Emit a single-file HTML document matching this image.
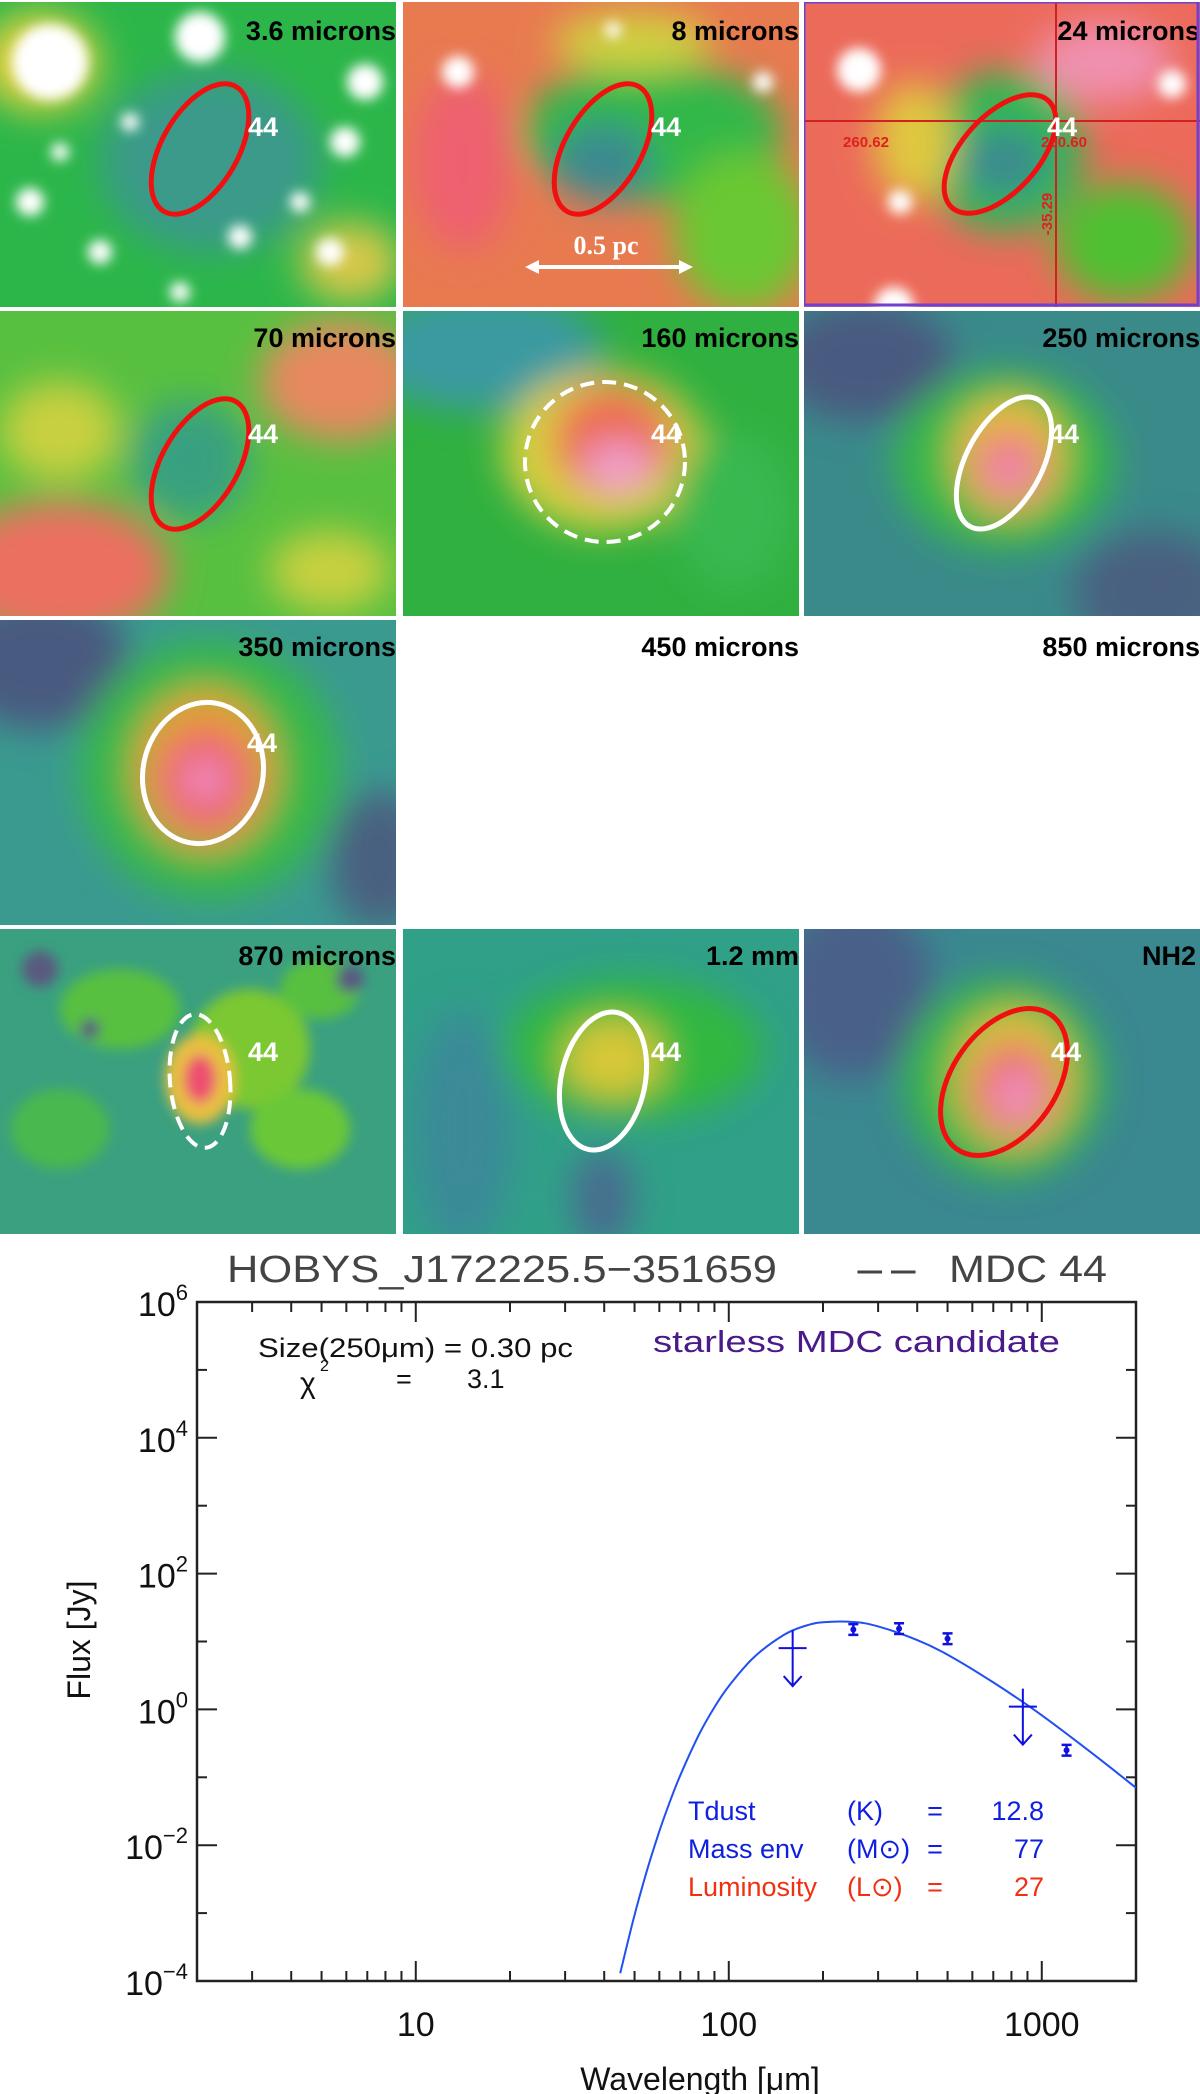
<!DOCTYPE html>
<html><head><meta charset="utf-8"><style>
html,body{margin:0;padding:0;background:#fff;width:1200px;height:2094px;overflow:hidden}
svg text{font-family:"Liberation Sans",sans-serif}
.pt{font-weight:bold;font-size:27px;fill:#000;text-anchor:end}
.lab{font-weight:bold;font-size:27px;fill:#fff;text-anchor:middle}
</style></head><body>
<svg width="1200" height="2094" xmlns="http://www.w3.org/2000/svg">
<defs>
<filter id="b1" x="-50%" y="-50%" width="200%" height="200%"><feGaussianBlur stdDeviation="18"/></filter>
<filter id="b2" x="-50%" y="-50%" width="200%" height="200%"><feGaussianBlur stdDeviation="6"/></filter>
<clipPath id="c"><rect width="396" height="305"/></clipPath>
</defs>

<!-- Row 1 -->
<g transform="translate(0,2)" clip-path="url(#c)">
<rect width="396" height="305" fill="#2cb64a"/>
<g filter="url(#b1)"><ellipse cx="210" cy="160" rx="110" ry="90" fill="#3a9a8a"/><ellipse cx="40" cy="60" rx="60" ry="50" fill="#e0d040"/><ellipse cx="350" cy="260" rx="50" ry="40" fill="#d8c84a"/></g>
<g filter="url(#b2)" fill="#fff"><circle cx="50" cy="60" r="38"/><circle cx="200" cy="35" r="25"/><circle cx="365" cy="80" r="18"/><circle cx="345" cy="140" r="15"/><circle cx="30" cy="200" r="14"/><circle cx="100" cy="250" r="12"/><circle cx="240" cy="235" r="12"/><circle cx="330" cy="250" r="14"/><circle cx="130" cy="120" r="9"/><circle cx="300" cy="200" r="10"/><circle cx="60" cy="150" r="9"/><circle cx="180" cy="290" r="10"/></g>
<ellipse cx="200" cy="147" rx="38" ry="72" transform="rotate(30 200 147)" fill="none" stroke="#f01010" stroke-width="5"/>
<text class="lab" x="263" y="134">44</text>
<text class="pt" x="396" y="38">3.6 microns</text>
</g>
<g transform="translate(403,2)" clip-path="url(#c)">
<rect width="396" height="305" fill="#e87a50"/>
<g filter="url(#b1)"><ellipse cx="250" cy="130" rx="130" ry="70" fill="#30b848"/><ellipse cx="200" cy="160" rx="50" ry="40" fill="#3a8a90"/><ellipse cx="340" cy="230" rx="70" ry="80" fill="#6ac830"/><ellipse cx="60" cy="160" rx="50" ry="90" fill="#ee6070"/><ellipse cx="230" cy="40" rx="80" ry="30" fill="#d0d040"/></g>
<g filter="url(#b2)" fill="#fff"><circle cx="55" cy="70" r="16"/><circle cx="360" cy="80" r="10"/><circle cx="210" cy="28" r="8"/></g>
<ellipse cx="200" cy="147" rx="38" ry="72" transform="rotate(30 200 147)" fill="none" stroke="#f01010" stroke-width="5"/>
<text class="lab" x="263" y="134">44</text>
<text class="pt" x="396" y="38">8 microns</text>
<line x1="132" y1="265" x2="280" y2="265" stroke="#fff" stroke-width="4"/>
<path d="M122 265 L136 258 L136 272Z M290 265 L276 258 L276 272Z" fill="#fff"/>
<text x="203" y="252" text-anchor="middle" font-weight="bold" font-size="26" fill="#fff" style="font-family:'Liberation Serif',serif">0.5 pc</text>
</g>
<g transform="translate(804,2)" clip-path="url(#c)">
<rect width="396" height="305" fill="#ec6a5a"/>
<g filter="url(#b1)"><ellipse cx="200" cy="150" rx="80" ry="80" fill="#30b850"/><ellipse cx="200" cy="160" rx="45" ry="35" fill="#3a8a90"/><ellipse cx="320" cy="240" rx="70" ry="60" fill="#50c030"/><ellipse cx="110" cy="140" rx="40" ry="60" fill="#e0c840"/><ellipse cx="300" cy="60" rx="70" ry="40" fill="#f090b0"/></g>
<g filter="url(#b2)" fill="#fff"><circle cx="55" cy="68" r="22"/><circle cx="368" cy="82" r="14"/><circle cx="96" cy="200" r="12"/><circle cx="90" cy="305" r="20"/></g>
<line x1="0" y1="119" x2="396" y2="119" stroke="#d02020" stroke-width="2"/>
<line x1="252" y1="0" x2="252" y2="305" stroke="#d02020" stroke-width="2"/>
<text x="62" y="145" font-size="15" font-weight="bold" fill="#e02020" text-anchor="middle">260.62</text>
<text x="260" y="145" font-size="15" font-weight="bold" fill="#e02020" text-anchor="middle">260.60</text>
<text transform="translate(248,212) rotate(-90)" font-size="15" font-weight="bold" fill="#e02020" text-anchor="middle">-35.29</text>
<ellipse cx="196" cy="152" rx="38" ry="72" transform="rotate(42 196 152)" fill="none" stroke="#f01010" stroke-width="5"/>
<text class="lab" x="258" y="134">44</text>
<text class="pt" x="396" y="38">24 microns</text>
<rect x="0" y="0" width="394" height="303" fill="none" stroke="#7040d0" stroke-width="3"/>
</g>

<!-- Row 2 -->
<g transform="translate(0,311)" clip-path="url(#c)">
<rect width="396" height="305" fill="#58c040"/>
<g filter="url(#b1)"><ellipse cx="340" cy="70" rx="80" ry="60" fill="#e88860"/><ellipse cx="60" cy="260" rx="110" ry="70" fill="#ec7060"/><ellipse cx="190" cy="150" rx="60" ry="60" fill="#38a080"/><ellipse cx="60" cy="120" rx="60" ry="50" fill="#c8d040"/><ellipse cx="330" cy="260" rx="60" ry="40" fill="#c8d040"/></g>
<ellipse cx="200" cy="153" rx="38" ry="72" transform="rotate(30 200 153)" fill="none" stroke="#f01010" stroke-width="5"/>
<text class="lab" x="263" y="132">44</text>
<text class="pt" x="396" y="36">70 microns</text>
</g>
<g transform="translate(403,311)" clip-path="url(#c)">
<rect width="396" height="305" fill="#30b040"/>
<g filter="url(#b1)"><ellipse cx="80" cy="40" rx="120" ry="60" fill="#3a9aa0"/><ellipse cx="200" cy="140" rx="100" ry="80" fill="#d8d040"/><ellipse cx="210" cy="130" rx="60" ry="55" fill="#ec6a50"/><ellipse cx="215" cy="155" rx="35" ry="25" fill="#f0a0d0"/><ellipse cx="330" cy="200" rx="60" ry="80" fill="#38b850"/></g>
<circle cx="202" cy="151" r="80" fill="none" stroke="#fff" stroke-width="4" stroke-dasharray="14 8"/>
<text class="lab" x="263" y="132">44</text>
<text class="pt" x="396" y="36">160 microns</text>
</g>
<g transform="translate(804,311)" clip-path="url(#c)">
<rect width="396" height="305" fill="#3a8a8a"/>
<g filter="url(#b1)"><ellipse cx="60" cy="50" rx="90" ry="60" fill="#4a5a80"/><ellipse cx="350" cy="280" rx="80" ry="60" fill="#4a6080"/><ellipse cx="200" cy="150" rx="110" ry="90" fill="#38b848"/><ellipse cx="205" cy="145" rx="55" ry="60" fill="#e8c040"/><ellipse cx="205" cy="155" rx="35" ry="35" fill="#ec6070"/><ellipse cx="205" cy="158" rx="18" ry="16" fill="#f0a0d0"/></g>
<ellipse cx="200" cy="152" rx="38" ry="72" transform="rotate(28 200 152)" fill="none" stroke="#fff" stroke-width="5"/>
<text class="lab" x="260" y="132">44</text>
<text class="pt" x="396" y="36">250 microns</text>
</g>

<!-- Row 3 -->
<g transform="translate(0,620)" clip-path="url(#c)">
<rect width="396" height="305" fill="#3a9a90"/>
<g filter="url(#b1)"><ellipse cx="40" cy="40" rx="90" ry="70" fill="#4a5a80"/><ellipse cx="380" cy="240" rx="50" ry="70" fill="#4a6080"/><ellipse cx="210" cy="150" rx="130" ry="130" fill="#38b848"/><ellipse cx="205" cy="150" rx="70" ry="80" fill="#e8a030"/><ellipse cx="205" cy="160" rx="45" ry="50" fill="#ec5070"/><ellipse cx="205" cy="160" rx="20" ry="20" fill="#f0a0d0"/></g>
<ellipse cx="203" cy="153" rx="60" ry="71" transform="rotate(12 203 153)" fill="none" stroke="#fff" stroke-width="5"/>
<text class="lab" x="262" y="132">44</text>
<text class="pt" x="396" y="36">350 microns</text>
</g>
<text class="pt" x="799" y="656">450 microns</text>
<text class="pt" x="1200" y="656">850 microns</text>

<!-- Row 4 -->
<g transform="translate(0,929)" clip-path="url(#c)">
<rect width="396" height="305" fill="#3aa080"/>
<g filter="url(#b2)"><ellipse cx="120" cy="80" rx="60" ry="40" fill="#58c040"/><ellipse cx="250" cy="120" rx="60" ry="60" fill="#7cc830"/><ellipse cx="200" cy="150" rx="35" ry="45" fill="#e8c040"/><ellipse cx="200" cy="150" rx="16" ry="24" fill="#ec5070"/><ellipse cx="300" cy="200" rx="50" ry="40" fill="#6ac838"/><ellipse cx="60" cy="200" rx="50" ry="40" fill="#48b850"/><ellipse cx="320" cy="60" rx="40" ry="30" fill="#58c040"/><circle cx="40" cy="40" r="18" fill="#5a5a80"/><circle cx="350" cy="50" r="14" fill="#5a5a80"/><circle cx="90" cy="100" r="10" fill="#5a5a80"/></g>
<ellipse cx="200" cy="152" rx="30" ry="67" transform="rotate(-5 200 152)" fill="none" stroke="#fff" stroke-width="4" stroke-dasharray="14 8"/>
<text class="lab" x="263" y="132">44</text>
<text class="pt" x="396" y="36">870 microns</text>
</g>
<g transform="translate(403,929)" clip-path="url(#c)">
<rect width="396" height="305" fill="#30a088"/>
<g filter="url(#b1)"><ellipse cx="230" cy="120" rx="130" ry="70" fill="#30b840"/><ellipse cx="210" cy="130" rx="50" ry="40" fill="#d8c838"/><ellipse cx="60" cy="200" rx="50" ry="120" fill="#3a8a98"/><ellipse cx="200" cy="270" rx="30" ry="50" fill="#4a6a90"/></g>
<ellipse cx="200" cy="152" rx="42" ry="70" transform="rotate(12 200 152)" fill="none" stroke="#fff" stroke-width="5"/>
<text class="lab" x="263" y="132">44</text>
<text class="pt" x="396" y="36">1.2 mm</text>
</g>
<g transform="translate(804,929)" clip-path="url(#c)">
<rect width="396" height="305" fill="#3a8890"/>
<g filter="url(#b1)"><ellipse cx="50" cy="60" rx="80" ry="90" fill="#4a6088"/><ellipse cx="200" cy="150" rx="100" ry="100" fill="#38b848"/><ellipse cx="210" cy="150" rx="60" ry="70" fill="#e0c040"/><ellipse cx="210" cy="160" rx="40" ry="45" fill="#ec5060"/><ellipse cx="212" cy="165" rx="20" ry="26" fill="#f0a0d0"/></g>
<ellipse cx="200" cy="153" rx="52" ry="82" transform="rotate(35 200 153)" fill="none" stroke="#f01010" stroke-width="5"/>
<text class="lab" x="262" y="132">44</text>
<text class="pt" x="392" y="36">NH2</text>
</g>

<!-- SED plot -->
<g id="plot"></g>
</svg>
<script>
const fitWavelengths=[45,50,55,60,65,70,80,90,100,120,150,175,200,250,300,400,500,700,1000,1500,2000];
const fitFlux=[1.3e-4,9.4e-4,4.5e-3,0.016,0.045,0.107,0.41,1.08,2.2,5.8,12.5,16.9,19.2,19.4,16.7,10.5,6.4,2.5,0.82,0.20,0.07];
const detWavelengths=[250,350,500,1200];
const detFlux=[15,15.5,11,0.25];
const detErr=[0.2,0.2,0.2,0.2];
const limWavelengths=[160,870];
const limFlux=[8,1.1];
const yTickExps=[6,4,2,0,-2,-4];
const xTickLabels=[10,100,1000];

const NS='http://www.w3.org/2000/svg';
const g=document.getElementById('plot');
const L=197,R=1136,T=1302,B=1981;
const xmin=Math.log10(2),xmax=Math.log10(2000),ymin=-4,ymax=6;
const X=v=>L+(Math.log10(v)-xmin)/(xmax-xmin)*(R-L);
const Y=v=>B-(Math.log10(v)-ymin)/(ymax-ymin)*(B-T);
function el(t,a,txt){const e=document.createElementNS(NS,t);for(const k in a)e.setAttribute(k,a[k]);if(txt!==undefined)e.textContent=txt;g.appendChild(e);return e;}

let e=el('rect',{x:L,y:T,width:R-L,height:B-T,fill:'none',stroke:'#222','stroke-width':2.5});


for(let d=0;d<=3;d++){for(let m=1;m<10;m++){const v=m*Math.pow(10,d);if(v<2||v>2000)continue;const x=X(v);const len=m===1?20:10;
el('line',{x1:x,y1:B,x2:x,y2:B-len,stroke:'#222','stroke-width':2});el('line',{x1:x,y1:T,x2:x,y2:T+len,stroke:'#222','stroke-width':2});}}
xTickLabels.forEach(v=>{const t=el('text',{x:X(v),y:2036,'font-size':34,'text-anchor':'middle',fill:'#111'},String(v));

});
for(let p=-4;p<=6;p++){const y=Y(Math.pow(10,p));const len=p%2===0?20:10;
el('line',{x1:L,y1:y,x2:L+len,y2:y,stroke:'#222','stroke-width':2});el('line',{x1:R,y1:y,x2:R-len,y2:y,stroke:'#222','stroke-width':2});}
yTickExps.forEach(p=>{const y=Y(Math.pow(10,p));const t=el('text',{x:188,y:y+14,'font-size':34,'text-anchor':'end',fill:'#111'});


const s1=document.createElementNS(NS,'tspan');s1.textContent='10';t.appendChild(s1);
const s2=document.createElementNS(NS,'tspan');s2.setAttribute('dy','-16');s2.setAttribute('font-size','22');s2.textContent=String(p).replace('-','\u2212');t.appendChild(s2);});
const cp=document.createElementNS(NS,'clipPath');cp.setAttribute('id','pc');const cr=document.createElementNS(NS,'rect');cr.setAttribute('x',L);cr.setAttribute('y',T);cr.setAttribute('width',R-L);cr.setAttribute('height',B-T);cp.appendChild(cr);g.appendChild(cp);
// smooth Catmull-Rom through fit samples
const P=fitWavelengths.map((w,i)=>[X(w),Y(fitFlux[i])]);
let d='M'+P[0][0].toFixed(1)+' '+P[0][1].toFixed(1);
for(let i=0;i<P.length-1;i++){const p0=P[Math.max(0,i-1)],p1=P[i],p2=P[i+1],p3=P[Math.min(P.length-1,i+2)];
const c1=[p1[0]+(p2[0]-p0[0])/6,p1[1]+(p2[1]-p0[1])/6],c2=[p2[0]-(p3[0]-p1[0])/6,p2[1]-(p3[1]-p1[1])/6];
d+=`C${c1[0].toFixed(1)} ${c1[1].toFixed(1)} ${c2[0].toFixed(1)} ${c2[1].toFixed(1)} ${p2[0].toFixed(1)} ${p2[1].toFixed(1)}`;}
e=el('path',{d:d,fill:'none',stroke:'#2050f0','stroke-width':2,'clip-path':'url(#pc)'});


detWavelengths.forEach((w,i)=>{const x=X(w),y=Y(detFlux[i]);const y1=Y(detFlux[i]*(1+detErr[i])),y2=Y(detFlux[i]/(1+detErr[i]));
const p=el('path',{d:`M${x} ${y1}V${y2}M${x-5} ${y1}H${x+5}M${x-5} ${y2}H${x+5}`,stroke:'#1010e0','stroke-width':2.5,fill:'none'});


el('circle',{cx:x,cy:y,r:3,fill:'#1010e0'});});
limWavelengths.forEach((w,i)=>{const x=X(w),y=Y(limFlux[i]);
const p=el('path',{d:`M${x-14} ${y}H${x+14}M${x} ${y-18}V${y+38}M${x-9} ${y+28}L${x} ${y+38}L${x+9} ${y+28}`,stroke:'#1010e0','stroke-width':2,fill:'none'});

});
function txt(a,s,name){const t=el('text',a,s);return t;}
txt({x:227,y:1282,'font-size':38,fill:'#444',textLength:550,lengthAdjust:'spacingAndGlyphs'},'HOBYS_J172225.5\u2212351659','plot-title-id');
txt({x:853,y:1282,'font-size':38,fill:'#444',textLength:67,lengthAdjust:'spacingAndGlyphs'},'--','plot-title-sep');
txt({x:949,y:1282,'font-size':38,fill:'#444',textLength:158,lengthAdjust:'spacingAndGlyphs'},'MDC 44','plot-title-mdc');
txt({x:653,y:1352,'font-size':31,fill:'#4a1a8a',textLength:407,lengthAdjust:'spacingAndGlyphs'},'starless MDC candidate','classification-label');
txt({x:258,y:1357,'font-size':27,fill:'#111',textLength:315,lengthAdjust:'spacingAndGlyphs'},'Size(250\u03bcm) = 0.30 pc','size-label');
txt({x:300,y:1393,'font-size':30,fill:'#111'},'\u03c7','chi2-symbol');
txt({x:320,y:1371,'font-size':16,fill:'#111'},'2','chi2-exponent');
txt({x:396,y:1388,'font-size':27,fill:'#111'},'=','chi2-equals');
txt({x:467,y:1388,'font-size':27,fill:'#111'},'3.1','chi2-value');
const rows=[['Tdust','(K)','12.8','#1020e0',1820],['Mass env','(M\u2299)','77','#1020e0',1858],['Luminosity','(L\u2299)','27','#f03010',1896]];
rows.forEach(r=>{txt({x:688,y:r[4],'font-size':27,fill:r[3]},r[0],'param-name');txt({x:847,y:r[4],'font-size':27,fill:r[3]},r[1],'param-unit');txt({x:935,y:r[4],'font-size':27,fill:r[3],'text-anchor':'middle'},'=','param-equals');txt({x:1044,y:r[4],'font-size':27,fill:r[3],'text-anchor':'end'},r[2],'param-value');});
txt({x:700,y:2090,'font-size':32,'text-anchor':'middle',fill:'#111'},'Wavelength [\u03bcm]','x-axis-title');
txt({x:0,y:0,'font-size':32,'text-anchor':'middle',fill:'#111',transform:'translate(90,1640) rotate(-90)'},'Flux [Jy]','y-axis-title');
</script>
</body></html>
